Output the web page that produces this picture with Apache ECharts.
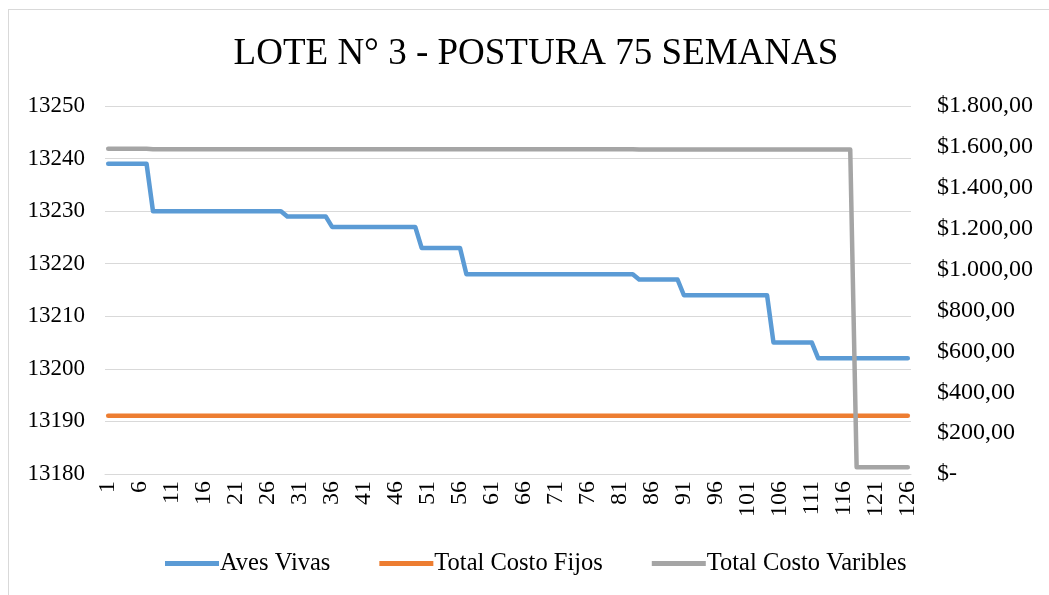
<!DOCTYPE html>
<html>
<head>
<meta charset="utf-8">
<script src="https://cdn.jsdelivr.net/npm/echarts@6/dist/echarts.min.js"></script>
<style>
html, body { margin: 0; padding: 0; background: #fff; overflow: hidden; }
#frame { position: absolute; left: 8px; top: 9px; width: 2000px; height: 2000px; border: 1px solid #d9d9d9; }
#chart-01 { position: absolute; left: 0; top: 0; width: 1049px; height: 595px; }
</style>
</head>
<body>
<div id="frame"></div>
<div id="chart-01"></div>
<script>
// semanas 1..126 (etiquetas del eje)
var semanas = [];
for (var i = 1; i <= 126; i++) semanas.push(String(i));

var avesVivas = [
    13239, 13239, 13239, 13239, 13239, 13239, 13239,
    13230, 13230, 13230, 13230, 13230, 13230, 13230,
    13230, 13230, 13230, 13230, 13230, 13230, 13230,
    13230, 13230, 13230, 13230, 13230, 13230, 13230,
    13229, 13229, 13229, 13229, 13229, 13229, 13229,
    13227, 13227, 13227, 13227, 13227, 13227, 13227,
    13227, 13227, 13227, 13227, 13227, 13227, 13227,
    13223, 13223, 13223, 13223, 13223, 13223, 13223,
    13218, 13218, 13218, 13218, 13218, 13218, 13218,
    13218, 13218, 13218, 13218, 13218, 13218, 13218,
    13218, 13218, 13218, 13218, 13218, 13218, 13218,
    13218, 13218, 13218, 13218, 13218, 13218, 13217,
    13217, 13217, 13217, 13217, 13217, 13217, 13214,
    13214, 13214, 13214, 13214, 13214, 13214, 13214,
    13214, 13214, 13214, 13214, 13214, 13214, 13205,
    13205, 13205, 13205, 13205, 13205, 13205, 13202,
    13202, 13202, 13202, 13202, 13202, 13202, 13202,
    13202, 13202, 13202, 13202, 13202, 13202, 13202
];

var costoFijos = [
    285, 285, 285, 285, 285, 285, 285, 285, 285, 285, 285, 285, 285, 285,
    285, 285, 285, 285, 285, 285, 285, 285, 285, 285, 285, 285, 285, 285,
    285, 285, 285, 285, 285, 285, 285, 285, 285, 285, 285, 285, 285, 285,
    285, 285, 285, 285, 285, 285, 285, 285, 285, 285, 285, 285, 285, 285,
    285, 285, 285, 285, 285, 285, 285, 285, 285, 285, 285, 285, 285, 285,
    285, 285, 285, 285, 285, 285, 285, 285, 285, 285, 285, 285, 285, 285,
    285, 285, 285, 285, 285, 285, 285, 285, 285, 285, 285, 285, 285, 285,
    285, 285, 285, 285, 285, 285, 285, 285, 285, 285, 285, 285, 285, 285,
    285, 285, 285, 285, 285, 285, 285, 285, 285, 285, 285, 285, 285, 285
];

var costoVariables = [
    1591, 1591, 1591, 1591, 1591, 1591, 1591,
    1589, 1589, 1589, 1589, 1589, 1589, 1589,
    1589, 1589, 1589, 1589, 1589, 1589, 1589,
    1589, 1589, 1589, 1589, 1589, 1589, 1589,
    1589, 1589, 1589, 1589, 1589, 1589, 1589,
    1589, 1589, 1589, 1589, 1589, 1589, 1589,
    1589, 1589, 1589, 1589, 1589, 1589, 1589,
    1589, 1589, 1589, 1589, 1589, 1589, 1589,
    1589, 1589, 1589, 1589, 1589, 1589, 1589,
    1589, 1589, 1589, 1589, 1589, 1589, 1589,
    1589, 1589, 1589, 1589, 1589, 1589, 1589,
    1589, 1589, 1589, 1589, 1589, 1589, 1587,
    1587, 1587, 1587, 1587, 1587, 1587, 1587,
    1587, 1587, 1587, 1587, 1587, 1587, 1587,
    1587, 1587, 1587, 1587, 1587, 1587, 1587,
    1587, 1587, 1587, 1587, 1587, 1587, 1587,
    1587, 1587, 1587, 1587, 1587, 33, 33,
    33, 33, 33, 33, 33, 33, 33
];

var fuente = '"Liberation Serif", "Times New Roman", serif';

function moneda(v) {
    if (v === 0) return '$-';
    var s = String(Math.round(v)).replace(/\B(?=(\d{3})+(?!\d))/g, '.');
    return '$' + s + ',00';
}

var myChart01 = echarts.init(document.getElementById('chart-01'));
var option01 = {
    animation: false,
    textStyle: { fontFamily: fuente, color: '#000' },
    title: {
        text: 'LOTE N° 3 - POSTURA 75 SEMANAS',
        left: 531,
        textAlign: 'center',
        top: 31,
        textStyle: { fontFamily: fuente, fontSize: 37, fontWeight: 'normal', color: '#000' }
    },
    legend: {
        left: 160,
        top: 546,
        icon: 'rect',
        itemWidth: 54,
        itemHeight: 5,
        itemGap: 49,
        textStyle: { fontFamily: fuente, fontSize: 24.5, color: '#000', padding: [0, 0, 0, -4] },
        data: ['Aves Vivas', 'Total Costo Fijos', 'Total Costo Varibles']
    },
    grid: {
        left: 105,
        right: 138,
        top: 106,
        bottom: 121,
        outerBoundsMode: 'none',
        containLabel: false
    },
    xAxis: {
        type: 'category',
        boundaryGap: true,
        data: semanas,
        axisLine: { lineStyle: { color: '#d9d9d9', width: 1 } },
        axisTick: { show: false },
        axisLabel: {
            interval: 4,
            rotate: 90,
            margin: 7,
            fontFamily: fuente,
            fontSize: 24,
            color: '#000'
        }
    },
    yAxis: [
        {
            type: 'value',
            min: 13180,
            max: 13250,
            interval: 10,
            axisLine: { show: false },
            axisTick: { show: false },
            splitLine: { lineStyle: { color: '#d9d9d9', width: 1 } },
            axisLabel: {
                margin: 20,
                fontFamily: fuente,
                fontSize: 23,
                color: '#000',
                formatter: function (v) { return String(v); }
            }
        },
        {
            type: 'value',
            min: 0,
            max: 1800,
            interval: 200,
            axisLine: { show: false },
            axisTick: { show: false },
            splitLine: { show: false },
            axisLabel: {
                margin: 26,
                fontFamily: fuente,
                fontSize: 24,
                color: '#000',
                formatter: moneda
            }
        }
    ],
    series: [
        {
            name: 'Aves Vivas',
            type: 'line',
            yAxisIndex: 0,
            symbol: 'none',
            color: '#5b9bd5',
            lineStyle: { width: 4.5, color: '#5b9bd5', cap: 'round', join: 'round' },
            data: avesVivas
        },
        {
            name: 'Total Costo Fijos',
            type: 'line',
            yAxisIndex: 1,
            symbol: 'none',
            color: '#ed7d31',
            lineStyle: { width: 4.5, color: '#ed7d31', cap: 'round', join: 'round' },
            data: costoFijos
        },
        {
            name: 'Total Costo Varibles',
            type: 'line',
            yAxisIndex: 1,
            symbol: 'none',
            color: '#a5a5a5',
            lineStyle: { width: 4.5, color: '#a5a5a5', cap: 'round', join: 'round' },
            data: costoVariables
        }
    ]
};
myChart01.setOption(option01);
</script>
</body>
</html>
